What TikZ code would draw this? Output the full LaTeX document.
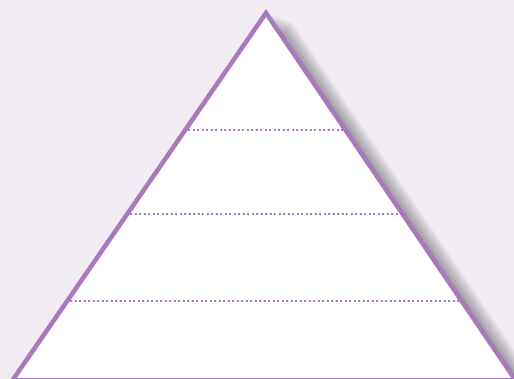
\documentclass[tikz,border=0pt]{standalone}
\usetikzlibrary{calc}
\definecolor{bgc}{RGB}{241,236,244}
\definecolor{purp}{RGB}{168,122,187}
\tikzset{
  pyrfill/.style={fill=white},
  pyredge/.style={draw=purp,line width=4.5pt,line join=miter},
  shadowlayer/.style={fill=black,opacity=0.019},
  divider/.style={draw=purp,line width=2pt,dash pattern=on 2pt off 2.5pt}
}
\begin{document}
\begin{tikzpicture}[x=1pt,y=-1pt]
\fill[bgc] (0,0) rectangle (514,379);
\useasboundingbox (0,0) rectangle (514,379);
\coordinate (A) at (266,13);
\coordinate (L) at (12,381);
\coordinate (R) at (516,381);
\foreach \i in {1,...,20}{
  \path[shadowlayer] ($(A)+(\i*1.3,\i*0.45)$) -- ($(L)+(\i*1.3,\i*0.45)$) -- ($(R)+(\i*1.3,\i*0.45)$) -- cycle;
}
\path[pyrfill] (A) -- (L) -- (R) -- cycle;
\coordinate (l1) at ($(A)!{(130-13)/368}!(L)$);
\coordinate (r1) at ($(A)!{(130-13)/368}!(R)$);
\coordinate (l2) at ($(A)!{(214-13)/368}!(L)$);
\coordinate (r2) at ($(A)!{(214-13)/368}!(R)$);
\coordinate (l3) at ($(A)!{(301-13)/368}!(L)$);
\coordinate (r3) at ($(A)!{(301-13)/368}!(R)$);
\draw[divider] ($(l1)+(3,0)$) -- ($(r1)+(-1,0)$);
\draw[divider] ($(l2)+(3,0)$) -- ($(r2)+(3,0)$);
\draw[divider] ($(l3)+(3,0)$) -- ($(r3)+(3,0)$);
\draw[pyredge] (L) -- (A) -- (R);
\draw[purp,line width=1.5pt] (L |- 0,378.5) coordinate (bl) -- (R |- 0,378.5) coordinate (br);
\end{tikzpicture}
\end{document}
